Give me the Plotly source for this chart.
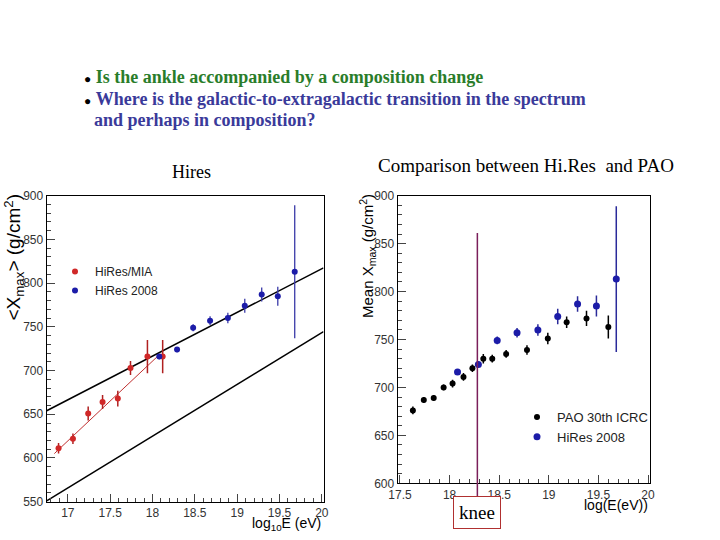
import plotly.graph_objects as go

# ---------------- data ----------------
# Left panel (Hires)
mia_x = [16.89, 17.06, 17.24, 17.41, 17.59, 17.74, 17.94, 18.12]
mia_y = [611, 622, 651, 664, 668, 703, 716, 716]
mia_err = [6, 6, 8, 8, 9, 8, 19, 19]

hires_x = [18.08, 18.29, 18.48, 18.68, 18.89, 19.09, 19.29, 19.48, 19.68]
hires_y = [716, 724, 749, 757, 760, 774, 787, 785, 813]
hires_err = [3, 3, 4, 5, 6, 8, 8, 11, 76]

fit_x = [16.84, 18.09]
fit_y = [605, 719]
upper_x = [16.75, 20.02]
upper_y = [654, 817.5]
lower_x = [16.75, 20.02]
lower_y = [551, 744.5]

# Right panel (PAO vs HiRes)
pao_x = [17.63, 17.74, 17.84, 17.94, 18.03, 18.14, 18.23, 18.34, 18.43, 18.57,
         18.78, 18.99, 19.18, 19.38, 19.60]
pao_y = [676, 687, 689, 700, 704, 711, 720, 730, 730, 735, 739, 751, 768, 772, 763]
pao_err = [4, 3, 3, 3, 4, 4, 4, 5, 4, 4, 5, 6, 6, 8, 12]

knee_x = 18.28
knee_top = 861

W, H = 720, 540
def px(x): return x / W
def py(y): return 1 - y / H

RED = "#d02828"
BLUE = "#1c1ca8"
TICKFONT = dict(family="Arial, Liberation Sans, sans-serif", size=12, color="#333")

fig = go.Figure()

# Left panel traces
fig.add_trace(go.Scatter(x=upper_x, y=upper_y, mode="lines", line=dict(color="black", width=1.5),
                         showlegend=False, xaxis="x", yaxis="y", hoverinfo="skip"))
fig.add_trace(go.Scatter(x=lower_x, y=lower_y, mode="lines", line=dict(color="black", width=1.5),
                         showlegend=False, xaxis="x", yaxis="y", hoverinfo="skip"))
fig.add_trace(go.Scatter(x=fit_x, y=fit_y, mode="lines", line=dict(color="#c03030", width=1),
                         showlegend=False, xaxis="x", yaxis="y", hoverinfo="skip"))
fig.add_trace(go.Scatter(x=mia_x, y=mia_y, mode="markers", name="HiRes/MIA",
                         marker=dict(color=RED, size=6),
                         error_y=dict(type="data", array=mia_err, color="#b02020", thickness=1.5, width=0),
                         xaxis="x", yaxis="y", legend="legend"))
fig.add_trace(go.Scatter(x=hires_x, y=hires_y, mode="markers", name="HiRes 2008",
                         marker=dict(color=BLUE, size=6),
                         error_y=dict(type="data", array=hires_err, color="#3a3aa8", thickness=1.3, width=0),
                         xaxis="x", yaxis="y", legend="legend"))

# Right panel traces
fig.add_trace(go.Scatter(x=pao_x, y=pao_y, mode="markers", name="PAO 30th ICRC",
                         marker=dict(color="black", size=6),
                         error_y=dict(type="data", array=pao_err, color="black", thickness=1.5, width=0),
                         xaxis="x2", yaxis="y2", legend="legend2"))
fig.add_trace(go.Scatter(x=hires_x, y=hires_y, mode="markers", name="HiRes 2008",
                         marker=dict(color=BLUE, size=7),
                         error_y=dict(type="data", array=hires_err, color="#2a2a9a", thickness=1.5, width=0),
                         xaxis="x2", yaxis="y2", legend="legend2"))

axis_common = dict(showline=True, linecolor="black", linewidth=1.2, mirror=True,
                   ticks="inside", ticklen=8, tickcolor="#444", showgrid=False, zeroline=False,
                   tickfont=TICKFONT, automargin=False)

fig.update_layout(
    width=W, height=H, autosize=False,
    margin=dict(l=0, r=0, t=0, b=0, pad=0),
    paper_bgcolor="white", plot_bgcolor="white",
    xaxis=dict(domain=[px(46.7), px(323.5)], range=[16.75, 20.02], anchor="y",
               tick0=17, dtick=0.5, minor=dict(dtick=0.1, ticks="inside", ticklen=4, tickcolor="#444"),
               **axis_common),
    yaxis=dict(domain=[py(501.7), py(195.7)], range=[550, 900], anchor="x",
               tick0=550, dtick=50, minor=dict(dtick=10, ticks="inside", ticklen=4, tickcolor="#444"),
               **axis_common),
    xaxis2=dict(domain=[px(397.7), px(650)], range=[17.477, 20.02], anchor="y2",
                tick0=17.5, dtick=0.5, minor=dict(dtick=0.1, ticks="inside", ticklen=4, tickcolor="#444"),
                **axis_common),
    yaxis2=dict(domain=[py(483.3), py(195.7)], range=[600, 900], anchor="x2",
                tick0=600, dtick=50, minor=dict(dtick=10, ticks="inside", ticklen=4, tickcolor="#444"),
                **axis_common),
    legend=dict(x=px(55), y=py(257), xanchor="left", yanchor="top",
                bgcolor="rgba(0,0,0,0)", font=dict(family="Arial, Liberation Sans, sans-serif", size=12, color="#222")),
    legend2=dict(x=px(517), y=py(402), xanchor="left", yanchor="top",
                 bgcolor="rgba(0,0,0,0)", font=dict(family="Arial, Liberation Sans, sans-serif", size=13, color="#222")),
)

SERIF = "Liberation Serif, Times New Roman, serif"
SANS = "Arial, Liberation Sans, sans-serif"
ann = []
# Slide text
ann.append(dict(x=px(82), y=py(77), xref="paper", yref="paper", xanchor="left", yanchor="middle", showarrow=False,
                text="<span style='font-size:12px;color:black'>●</span> <b>Is the ankle accompanied by a composition change</b>",
                font=dict(family=SERIF, size=18, color="#2a7d2a")))
ann.append(dict(x=px(82), y=py(99), xref="paper", yref="paper", xanchor="left", yanchor="middle", showarrow=False,
                text="<span style='font-size:12px;color:black'>●</span> <b>Where is the galactic-to-extragalactic transition in the spectrum</b>",
                font=dict(family=SERIF, size=18, color="#3a3a9a")))
ann.append(dict(x=px(92), y=py(120), xref="paper", yref="paper", xanchor="left", yanchor="middle", showarrow=False,
                text="<b>and perhaps in composition?</b>",
                font=dict(family=SERIF, size=18, color="#3a3a9a")))
ann.append(dict(x=px(191), y=py(172), xref="paper", yref="paper", xanchor="center", yanchor="middle", showarrow=False,
                text="Hires", font=dict(family=SERIF, size=18, color="black")))
ann.append(dict(x=px(376), y=py(166), xref="paper", yref="paper", xanchor="left", yanchor="middle", showarrow=False,
                text="Comparison between Hi.Res&nbsp; and PAO", font=dict(family=SERIF, size=19, color="black")))
# Axis titles
ann.append(dict(x=px(14), y=py(192), xref="paper", yref="paper", xanchor="center", yanchor="top", showarrow=False,
                textangle=-90, text="<X<sub>max</sub>> (g/cm<sup>2</sup>)",
                font=dict(family=SANS, size=19, color="black")))
ann.append(dict(x=px(323), y=py(524), xref="paper", yref="paper", xanchor="right", yanchor="middle", showarrow=False,
                text="log<sub>10</sub>E (eV)", font=dict(family=SANS, size=14, color="black")))
ann.append(dict(x=px(367), y=py(192), xref="paper", yref="paper", xanchor="center", yanchor="top", showarrow=False,
                textangle=-90, text="Mean X<sub>max</sub> (g/cm<sup>2</sup>)",
                font=dict(family=SANS, size=15, color="black")))
ann.append(dict(x=px(650), y=py(505), xref="paper", yref="paper", xanchor="right", yanchor="middle", showarrow=False,
                text="log(E(eV))", font=dict(family=SANS, size=14, color="black")))
# Knee marker
ann.append(dict(x=knee_x, y=knee_top, xref="x2", yref="y2", showarrow=True, arrowhead=0,
                arrowcolor="#7a1f5a", arrowwidth=1.5, ax=0, ay=279, standoff=0,
                text="knee", font=dict(family=SERIF, size=19, color="black"),
                bordercolor="#b03030", borderwidth=1, borderpad=5, bgcolor="white"))
fig.update_layout(annotations=ann)

fig.write_html("out.html", config={"displayModeBar": False},
               post_script="document.body.style.margin='0px';document.body.style.overflow='hidden';")
